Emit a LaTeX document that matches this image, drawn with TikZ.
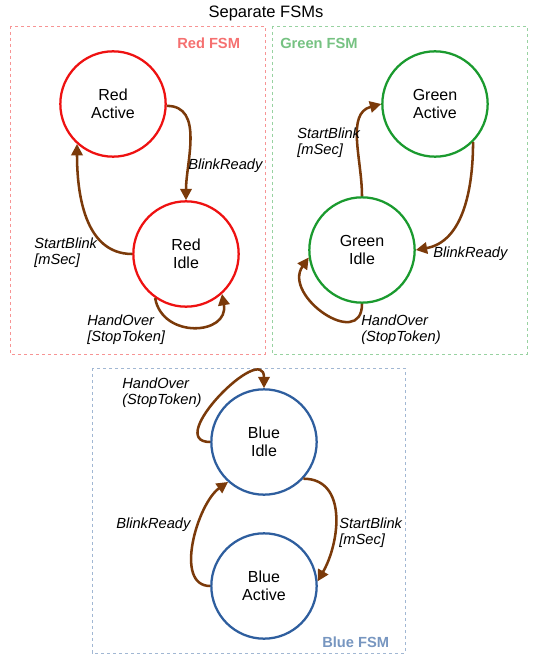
\documentclass[tikz,border=0pt]{standalone}
\usepackage{fontspec}
\setmainfont{Liberation Sans}
\usetikzlibrary{arrows.meta}
\definecolor{redfsm}{HTML}{EE1111}
\definecolor{greenfsm}{HTML}{1A9A2E}
\definecolor{bluefsm}{HTML}{2E5E9E}
\definecolor{transcol}{HTML}{7B3A0A}
\tikzset{
  state/.style={circle,draw,line width=1.7pt,minimum size=79pt,inner sep=0pt,
    align=center,font=\fontsize{12}{13.5}\selectfont},
  trans/.style={draw=transcol,line width=1.9pt,-{Triangle[length=8.5pt,width=8.5pt]}},
  lbl/.style={anchor=west,align=left,inner sep=0pt,font=\itshape\fontsize{11}{12}\selectfont},
  fsmbox/.style={line width=0.5pt,dash pattern=on 2.5pt off 2pt},
  fsmname/.style={anchor=west,inner sep=0pt,font=\bfseries\fontsize{11}{12}\selectfont}
}
\begin{document}
\begin{tikzpicture}[x=0.75pt,y=-0.75pt]
  \useasboundingbox (0,0) rectangle (532,659);
  \node (title) at (266,13) {\fontsize{12.4}{14}\selectfont Separate FSMs};
  % frames
  \draw[fsmbox,draw=redfsm!45] (10,26) rectangle (265,354);
  \draw[fsmbox,draw=greenfsm!45] (272,26) rectangle (527,354);
  \draw[fsmbox,draw=bluefsm!45] (92,368) rectangle (405,653);
  \node[fsmname,text=redfsm!60] (redname) at (177,43) {Red FSM};
  \node[fsmname,text=greenfsm!60] (greenname) at (280,43) {Green FSM};
  \node[fsmname,text=bluefsm!65] (bluename) at (322,642) {Blue FSM};
  % states
  \node[state,draw=redfsm] (ra) at (113,104) {Red\\Active};
  \node[state,draw=redfsm] (ri) at (186,254) {Red\\Idle};
  \node[state,draw=greenfsm] (ga) at (435,104) {Green\\Active};
  \node[state,draw=greenfsm] (gi) at (362,250) {Green\\Idle};
  \node[state,draw=bluefsm] (bi) at (264,442) {Blue\\Idle};
  \node[state,draw=bluefsm] (ba) at (264,586) {Blue\\Active};
  % transitions
  \begin{scope}[trans]
    \draw (ra.-2) to[out=0,in=90] (ri.north);
    \draw (ri.west) to[out=180,in=-90] (ra.228);
    \draw (ri.235) to[out=-80,in=-80,looseness=1.6] (ri.-48);
    \draw (gi.north) to[out=90,in=195] (ga.west);
    \draw (ga.-45) to[out=-90,in=10] (gi.east);
    \draw (gi.south) to[out=-90,in=235,looseness=1.7] (gi.188);
    \draw (bi.west) to[out=180,in=90,looseness=1.6] (bi.north);
    \draw (bi.-43) to[out=0,in=60,looseness=1.1] (ba.5);
    \draw (ba.west) to[out=180,in=215,looseness=0.9] (bi.228);
  \end{scope}
  % labels
  \node[lbl] (rblink) at (188,166) {BlinkReady};
  \node[lbl] (rstart) at (34,253) {StartBlink\\[0pt][mSec]};
  \node[lbl] (rhand) at (87,330) {HandOver\\[0pt][StopToken]};
  \node[lbl] (gstart) at (297,143) {StartBlink\\[0pt][mSec]};
  \node[lbl] (gblink) at (433,254) {BlinkReady};
  \node[lbl] (ghand) at (361,330) {HandOver\\(StopToken)};
  \node[lbl] (bhand) at (122,393) {HandOver\\(StopToken)};
  \node[lbl] (bstart) at (339,533) {StartBlink\\[0pt][mSec]};
  \node[lbl] (bblink) at (116,525) {BlinkReady};
\end{tikzpicture}
\end{document}
